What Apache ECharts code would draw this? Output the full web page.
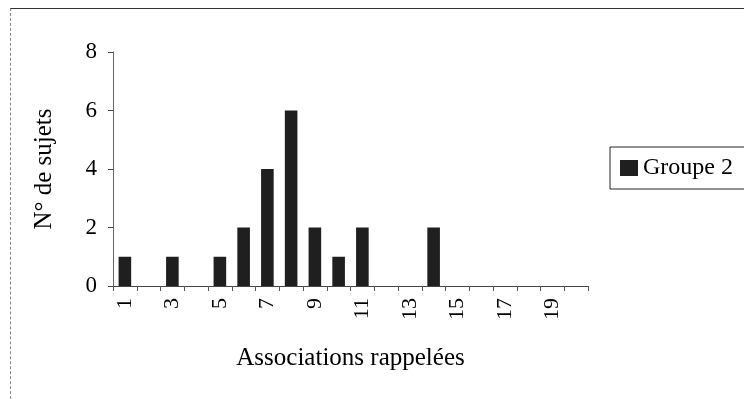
<!DOCTYPE html>
<html>
<head>
<meta charset="utf-8">
<script src="https://cdn.jsdelivr.net/npm/echarts@6/dist/echarts.min.js"></script>
<style>
html,body{margin:0;padding:0;background:#fff;}
#chart{width:744px;height:399px;position:absolute;left:0;top:0;}
#frame{position:absolute;left:10px;top:8px;width:740px;height:400px;border-top:1.5px solid #333;border-left:1px dashed #888;pointer-events:none;}
</style>
</head>
<body>
<div id="chart"></div>
<div id="frame"></div>
<script>
const categories = ['1','2','3','4','5','6','7','8','9','10','11','12','13','14','15','16','17','18','19','20'];
const groupe2 = [1,0,1,0,1,2,4,6,2,1,2,0,0,2,0,0,0,0,0,0];
const seriesName = 'Groupe 2';
const xTitle = 'Associations rappelées';
const yTitle = 'N° de sujets';

const FONT = "'Liberation Serif','Times New Roman',serif";
const chart = echarts.init(document.getElementById('chart'), null, {renderer:'canvas'});
chart.setOption({
  animation:false,
  backgroundColor:'#fff',
  textStyle:{fontFamily:FONT,color:'#000'},
  grid:{left:113,right:156,top:52,bottom:113,containLabel:false},
  legend:{
    data:[seriesName],
    left:610, top:147,
    orient:'vertical',
    icon:'rect', itemWidth:18, itemHeight:16, itemGap:0,
    padding:[9,20,9,10],
    borderColor:'#222', borderWidth:1,
    textStyle:{fontFamily:FONT,fontSize:24,color:'#000',padding:[0,0,0,0]}
  },
  xAxis:{
    type:'category',
    data:categories,
    boundaryGap:true,
    name:xTitle,
    nameLocation:'middle',
    nameGap:60,
    nameTextStyle:{fontFamily:FONT,fontSize:25,color:'#000'},
    axisLine:{lineStyle:{color:'#444',width:1}},
    axisTick:{show:true,alignWithLabel:false,interval:0,length:5,lineStyle:{color:'#555'}},
    axisLabel:{interval:1,rotate:90,margin:12,fontFamily:FONT,fontSize:22,color:'#000'}
  },
  yAxis:{
    type:'value',
    min:0,max:8,interval:2,
    name:yTitle,
    nameLocation:'middle',
    nameGap:56,
    nameTextStyle:{fontFamily:FONT,fontSize:25,color:'#000'},
    axisLine:{show:true,lineStyle:{color:'#666',width:1}},
    axisTick:{show:true,length:5,lineStyle:{color:'#444'}},
    splitLine:{show:false},
    axisLabel:{margin:16,fontFamily:FONT,fontSize:23,color:'#000'}
  },
  series:[{
    name:seriesName,
    type:'bar',
    data:groupe2,
    barWidth:'53%',
    itemStyle:{color:'#1f1f1f'}
  }]
});
</script>
</body>
</html>
